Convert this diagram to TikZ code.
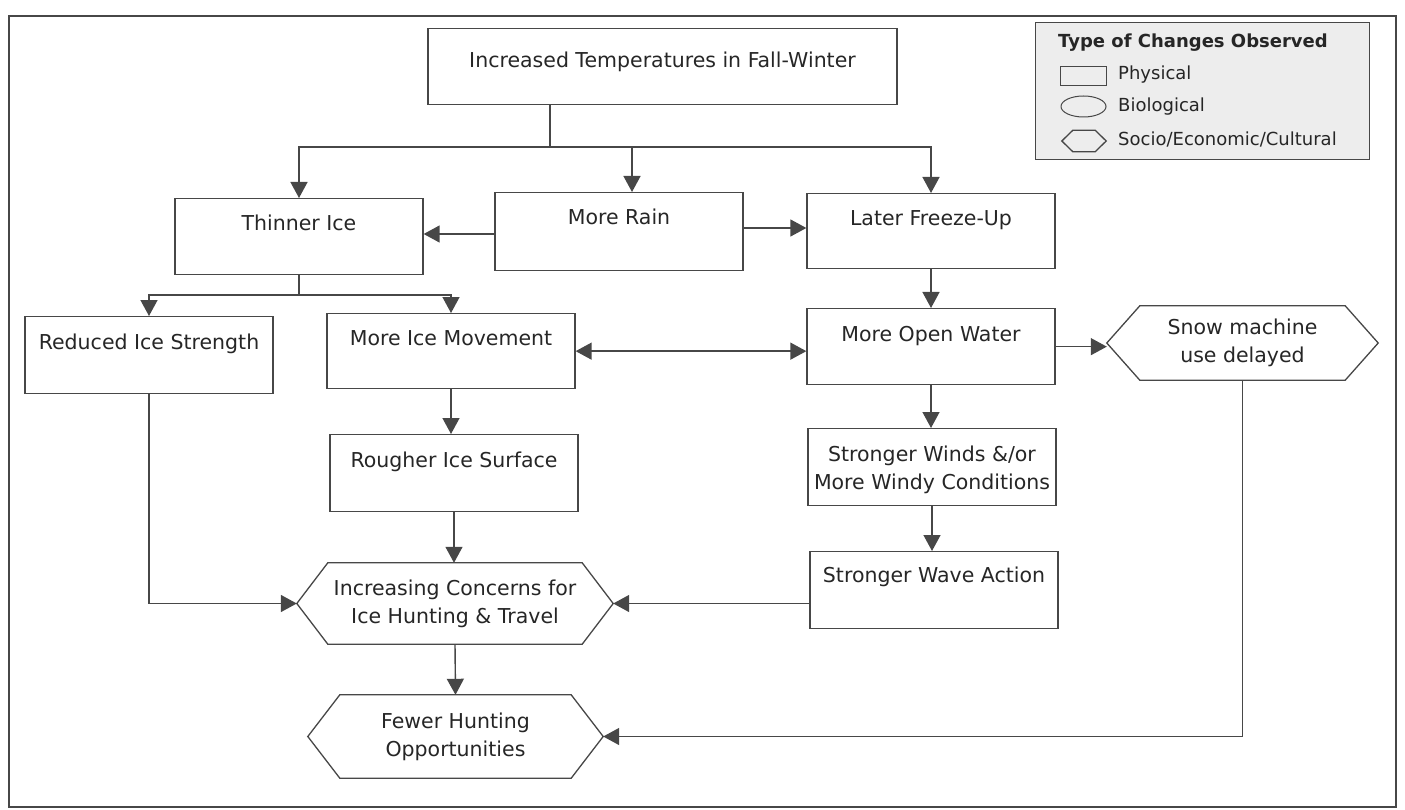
\documentclass[tikz,border=0pt]{standalone}
\usepackage{fontspec}
\setmainfont{DejaVu Sans}
\usetikzlibrary{arrows.meta,shapes.geometric}

\definecolor{inkgray}{HTML}{474747}
\definecolor{textgray}{HTML}{262626}
\definecolor{keygray}{HTML}{EDEDED}

\tikzset{
  physbox/.style={draw=inkgray, line width=1.3pt, inner sep=0pt, anchor=north,
    minimum width=248pt, text height=32pt, text depth=44pt, align=center,
    text=textgray, font=\fontsize{20.5}{28}\selectfont},
  hexbox/.style={inner sep=0pt, align=center, text=textgray,
    font=\fontsize{20.5}{28}\selectfont},
  hexline/.style={draw=inkgray, line width=1.3pt},
  link/.style={draw=inkgray, line width=1.4pt},
  arrow/.style={link, -{Triangle[length=16pt,width=17pt]}},
  keytext/.style={inner sep=0pt, anchor=west, text=textgray, font=\fontsize{18}{20}\selectfont}
}

\begin{document}
\begin{tikzpicture}[x=1pt, y=-1pt]
\useasboundingbox (0,0) rectangle (1405,810);
\draw[inkgray, line width=2.6pt] (9,16) rectangle (1396,807);

% legend
\node[draw=inkgray, fill=keygray, line width=1pt, anchor=north west, minimum width=334pt, minimum height=137pt] (key) at (1035,22) {};
\node[keytext, font=\fontsize{18}{20}\selectfont\bfseries] (keytitle) at (1058,43) {Type of Changes Observed};
\node[draw=inkgray, line width=1pt, minimum width=46pt, minimum height=19pt] (keyrect) at (1083,76) {};
\node[draw=inkgray, line width=1pt, ellipse, minimum width=45pt, minimum height=21pt] (keyell) at (1083.5,106.5) {};
\node[minimum width=44pt, minimum height=21pt, inner sep=0pt] (keyhex) at (1084,141) {};
\node[keytext] (keyphys) at (1118,75) {Physical};
\node[keytext] (keybio) at (1118,107) {Biological};
\node[keytext] (keysoc) at (1118,139) {Socio/Economic/Cultural};

% boxes
\node[physbox, minimum width=469pt, text height=39pt, text depth=37pt] (temp) at (662.5,28) {Increased Temperatures in Fall-Winter};
\node[physbox] (thin) at (299,198) {Thinner Ice};
\node[physbox, text depth=46pt] (rain) at (619,192) {More Rain};
\node[physbox, text depth=43pt] (later) at (931,193) {Later Freeze-Up};
\node[physbox, text height=33pt] (reduced) at (149,316) {Reduced Ice Strength};
\node[physbox, text depth=43pt] (move) at (451,313) {More Ice Movement};
\node[physbox, text height=33pt, text depth=43pt] (open) at (931,308) {More Open Water};
\node[physbox, text height=33pt] (rough) at (454,434) {Rougher Ice Surface};
\node[physbox, text height=61pt, text depth=16pt] (winds) at (932,428) {Stronger Winds \&/or\\More Windy Conditions};
\node[physbox, text height=31pt, text depth=46pt] (wave) at (934,551) {Stronger Wave Action};

\node[hexbox, minimum width=271pt, minimum height=74pt] (snow) at (1242.5,343) {Snow machine\\use delayed};
\node[hexbox, minimum width=316pt, minimum height=81pt] (concern) at (455,603.5) {Increasing Concerns for\\Ice Hunting \& Travel};
\node[hexbox, minimum width=295pt, minimum height=83pt] (fewer) at (455.5,736.5) {Fewer Hunting\\Opportunities};

\foreach \n/\tip in {snow/33,concern/31,fewer/32,keyhex/11}
  \draw[hexline] (\n.west) -- ([xshift=\tip pt]\n.north west) -- ([xshift=-\tip pt]\n.north east)
    -- (\n.east) -- ([xshift=-\tip pt]\n.south east) -- ([xshift=\tip pt]\n.south west) -- cycle;

% connectors
\coordinate (split) at (550,147);
\coordinate (split2) at (299,295);
\draw[link] (temp.south -| split) -- (split);
\draw[arrow] (split) -| (thin.north);
\draw[arrow] (split) -| (later.north);
\draw[arrow] ([xshift=13pt]rain.north |- split) -- ([xshift=13pt]rain.north);
\draw[arrow] (rain.west |- 0,234) -- (thin.east |- 0,234);
\draw[arrow] (rain.east |- 0,228) -- (later.west |- 0,228);
\draw[link] (thin.south) -- (split2);
\draw[arrow] (split2) -| (reduced.north);
\draw[arrow] (split2) -| (move.north);
\draw[arrow] (later.south) -- (open.north);
\draw[{Triangle[length=16pt,width=17pt]}-{Triangle[length=16pt,width=17pt]}, link] (move.east) -- (move.east -| open.west);
\draw[arrow] (open.east) -- (open.east -| snow.west);
\draw[arrow] (move.south) -- (move.south |- rough.north);
\draw[arrow] (rough.south) -- (rough.south |- concern.north);
\draw[arrow] (open.south) -- (open.south |- winds.north);
\draw[arrow] (winds.south) -- (winds.south |- wave.north);
\draw[arrow] (reduced.south) |- (concern.west);
\draw[arrow] (wave.west |- concern.east) -- (concern.east);
\draw[arrow] (concern.south) -- (fewer.north);
\draw[arrow] (snow.south) |- (fewer.east);
\end{tikzpicture}
\end{document}
